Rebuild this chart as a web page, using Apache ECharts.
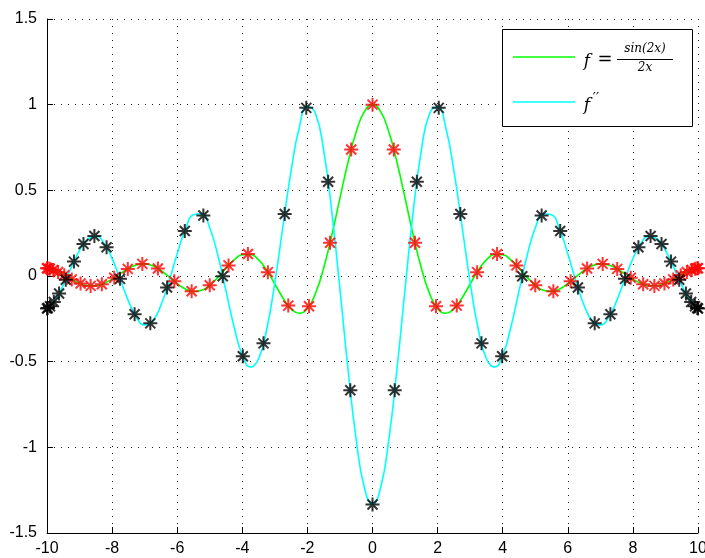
<!DOCTYPE html>
<html>
<head>
<meta charset="utf-8">
<script src="https://cdn.jsdelivr.net/npm/echarts@6/dist/echarts.min.js"></script>
<style>
  html, body { margin: 0; padding: 0; background: #ffffff; }
  #chart { width: 705px; height: 558px; }
</style>
</head>
<body>
<div id="chart"></div>
<script>
// Sample grid for the two smooth curves
const curveX = [
  -10, -9.75, -9.5, -9.25, -9, -8.75, -8.5, -8.25, -8, -7.75, -7.5, -7.25, -7, -6.75, -6.5, -6.25,
  -6, -5.75, -5.5, -5.25, -5, -4.75, -4.5, -4.25, -4, -3.75, -3.5, -3.25, -3, -2.75, -2.5, -2.25,
  -2, -1.75, -1.5, -1.25, -1, -0.75, -0.5, -0.25, 0, 0.25, 0.5, 0.75, 1, 1.25, 1.5, 1.75,
  2, 2.25, 2.5, 2.75, 3, 3.25, 3.5, 3.75, 4, 4.25, 4.5, 4.75, 5, 5.25, 5.5, 5.75,
  6, 6.25, 6.5, 6.75, 7, 7.25, 7.5, 7.75, 8, 8.25, 8.5, 8.75, 9, 9.25, 9.5, 9.75, 10
];

// f = sin(2x)/(2x)
const curveF = [
  0.0456, 0.0311, 0.0079, -0.0185, -0.0417, -0.0557, -0.0566, -0.0431, -0.0180, 0.0133, 0.0434, 0.0645,
  0.0708, 0.0595, 0.0323, -0.0053, -0.0447, -0.0761, -0.0909, -0.0838, -0.0544, -0.0079, 0.0458, 0.0939,
  0.1237, 0.1251, 0.0939, 0.0331, -0.0466, -0.1283, -0.1918, -0.2172, -0.1892, -0.1002, 0.0470, 0.2394,
  0.4546, 0.6650, 0.8415, 0.9589, 1,
  0.9589, 0.8415, 0.6650, 0.4546, 0.2394, 0.0470, -0.1002, -0.1892, -0.2172, -0.1918, -0.1283, -0.0466,
  0.0331, 0.0939, 0.1251, 0.1237, 0.0939, 0.0458, -0.0079, -0.0544, -0.0838, -0.0909, -0.0761, -0.0447,
  -0.0053, 0.0323, 0.0595, 0.0708, 0.0645, 0.0434, 0.0133, -0.0180, -0.0431, -0.0566, -0.0557, -0.0417,
  -0.0185, 0.0079, 0.0311, 0.0456
];

// f''
const curveD2 = [
  -0.1898, -0.1403, -0.0533, 0.0517, 0.1496, 0.2158, 0.2323, 0.1919, 0.1013, -0.0203, -0.1449, -0.2419,
  -0.2857, -0.2617, -0.1707, -0.0301, 0.1295, 0.2707, 0.3573, 0.3636, 0.2804, 0.1193, -0.0887, -0.2987,
  -0.4610, -0.5318, -0.4832, -0.3110, -0.0374, 0.2918, 0.6150, 0.8664, 0.9890, 0.9470, 0.7336, 0.3743,
  -0.0770, -0.5471, -0.9565, -1.2348, -1.3333,
  -1.2348, -0.9565, -0.5471, -0.0770, 0.3743, 0.7336, 0.9470, 0.9890, 0.8664, 0.6150, 0.2918, -0.0374,
  -0.3110, -0.4832, -0.5318, -0.4610, -0.2987, -0.0887, 0.1193, 0.2804, 0.3636, 0.3573, 0.2707, 0.1295,
  -0.0301, -0.1707, -0.2617, -0.2857, -0.2419, -0.1449, -0.0203, 0.1013, 0.1919, 0.2323, 0.2158, 0.1496,
  0.0517, -0.0533, -0.1403, -0.1898
];

// Node set for the red markers (on f)
const nodesF = [
  -10, -9.979, -9.914, -9.808, -9.659, -9.469, -9.239, -8.969, -8.660, -8.315, -7.934, -7.518, -7.071,
  -6.593, -6.088, -5.556, -5, -4.423, -3.827, -3.214, -2.588, -1.951, -1.305, -0.654, 0,
  0.654, 1.305, 1.951, 2.588, 3.214, 3.827, 4.423, 5, 5.556, 6.088, 6.593, 7.071, 7.518,
  7.934, 8.315, 8.660, 8.969, 9.239, 9.469, 9.659, 9.808, 9.914, 9.979, 10
];
const markF = [
  0.0456, 0.0448, 0.0419, 0.0353, 0.0234, 0.0047, -0.0197, -0.0441, -0.0577, -0.0479, -0.0100, 0.0414, 0.0707,
  0.0441, -0.0313, -0.0894, -0.0544, 0.0619, 0.1280, 0.0226, -0.1728, -0.1766, 0.1940, 0.7383, 1,
  0.7383, 0.1940, -0.1766, -0.1728, 0.0226, 0.1280, 0.0619, -0.0544, -0.0894, -0.0313, 0.0441, 0.0707, 0.0414,
  -0.0100, -0.0479, -0.0577, -0.0441, -0.0197, 0.0047, 0.0234, 0.0353, 0.0419, 0.0448, 0.0456
];

// Node set for the black markers (on f'')
const nodesD2 = [
  -10, -9.977, -9.907, -9.791, -9.629, -9.423, -9.172, -8.879, -8.544, -8.170, -7.757, -7.308,
  -6.826, -6.311, -5.767, -5.196, -4.601, -3.984, -3.349, -2.698, -2.035, -1.362, -0.682, 0,
  0.682, 1.362, 2.035, 2.698, 3.349, 3.984, 4.601, 5.196, 5.767, 6.311, 6.826, 7.308,
  7.757, 8.170, 8.544, 8.879, 9.172, 9.423, 9.629, 9.791, 9.907, 9.977, 10
];
const markD2 = [
  -0.1898, -0.1871, -0.1766, -0.1514, -0.1019, -0.0216, 0.0841, 0.1869, 0.2335, 0.1676, -0.0166, -0.2232,
  -0.2764, -0.0675, 0.2625, 0.3530, -0.0019, -0.4687, -0.3930, 0.3617, 0.9813, 0.5500, -0.6670, -1.3333,
  -0.6670, 0.5500, 0.9813, 0.3617, -0.3930, -0.4687, -0.0019, 0.3530, 0.2625, -0.0675, -0.2764, -0.2232,
  -0.0166, 0.1676, 0.2335, 0.1869, 0.0841, -0.0216, -0.1019, -0.1514, -0.1766, -0.1871, -0.1898
];

// Axis ranges and tick steps
const xRange = [-10, 10];
const xStep = 2;
const yRange = [-1.5, 1.5];
const yStep = 0.5;

const pairs = (xs, ys) => xs.map((x, i) => [x, ys[i]]);

const STAR = 'path://M0,-7L0,7M-7,0L7,0M-5,-5L5,5M-5,5L5,-5';
const AXIS_FONT = '"Liberation Sans", Arial, Helvetica, sans-serif';
const MATH_FONT = '"DejaVu Serif", "Liberation Serif", serif';

const axisCommon = {
  type: 'value',
  axisLine: { show: true, onZero: false, lineStyle: { color: '#000', width: 1 } },
  axisTick: { show: true, inside: true, length: 6, lineStyle: { color: '#000', width: 1 } },
  axisLabel: { color: '#000', fontSize: 16, fontFamily: AXIS_FONT },
  splitLine: { show: true, showMinLine: true, showMaxLine: true,
               lineStyle: { color: '#222', width: 1, type: [1, 6] } }
};

const centered = { align: 'center', verticalAlign: 'middle', textAlign: 'center', textVerticalAlign: 'middle' };
const mathText = (x, y, text, font) => ({
  type: 'text', z: 101, x: x, y: y,
  style: Object.assign({ text: text, font: font, fill: '#000' }, centered)
});

const chart = echarts.init(document.getElementById('chart'), null, { renderer: 'canvas' });
chart.setOption({
  animation: false,
  backgroundColor: '#ffffff',
  grid: { left: 47, right: 7, top: 19, bottom: 25, containLabel: false, outerBoundsMode: 'none' },
  xAxis: Object.assign({}, axisCommon, {
    min: xRange[0], max: xRange[1], interval: xStep,
    axisLabel: Object.assign({}, axisCommon.axisLabel, { margin: 8 })
  }),
  yAxis: Object.assign({}, axisCommon, {
    min: yRange[0], max: yRange[1], interval: yStep,
    axisLabel: Object.assign({}, axisCommon.axisLabel, { margin: 10 })
  }),
  series: [
    {
      name: 'f', type: 'line', data: pairs(curveX, curveF), smooth: true,
      symbol: 'none', clip: false, silent: true,
      lineStyle: { color: '#00ff00', width: 1.6 }, z: 2
    },
    {
      name: "f''", type: 'line', data: pairs(curveX, curveD2), smooth: true,
      symbol: 'none', clip: false, silent: true,
      lineStyle: { color: '#00ffff', width: 1.6 }, z: 3
    },
    {
      type: 'scatter', data: pairs(nodesF, markF), symbol: STAR, symbolSize: 14,
      clip: false, silent: true,
      itemStyle: { color: '#ff0000', borderColor: '#ff0000', borderWidth: 2 }, z: 4
    },
    {
      type: 'scatter', data: pairs(nodesD2, markD2), symbol: STAR, symbolSize: 14,
      clip: false, silent: true,
      itemStyle: { color: '#000000', borderColor: '#000000', borderWidth: 2 }, z: 5
    }
  ],
  graphic: [
    { type: 'rect', z: 100, shape: { x: 502.5, y: 29.5, width: 190, height: 97 },
      style: { fill: '#ffffff', stroke: '#000000', lineWidth: 1 } },
    { type: 'line', z: 101, shape: { x1: 513, y1: 57, x2: 575, y2: 57 },
      style: { stroke: '#00ff00', lineWidth: 1.6 } },
    { type: 'line', z: 101, shape: { x1: 513, y1: 102, x2: 575, y2: 102 },
      style: { stroke: '#00ffff', lineWidth: 1.6 } },
    mathText(587, 62, 'f', 'italic 17px ' + MATH_FONT),
    mathText(605, 60, '=', '18px ' + MATH_FONT),
    mathText(645, 49, 'sin(2x)', 'italic 12px ' + MATH_FONT),
    { type: 'line', z: 101, shape: { x1: 617, y1: 59.5, x2: 673, y2: 59.5 },
      style: { stroke: '#000000', lineWidth: 1 } },
    mathText(645, 68, '2x', 'italic 12px ' + MATH_FONT),
    mathText(587, 106, 'f', 'italic 17px ' + MATH_FONT),
    mathText(596, 99, '\u2032\u2032', '14px ' + MATH_FONT)
  ]
});
</script>
</body>
</html>
